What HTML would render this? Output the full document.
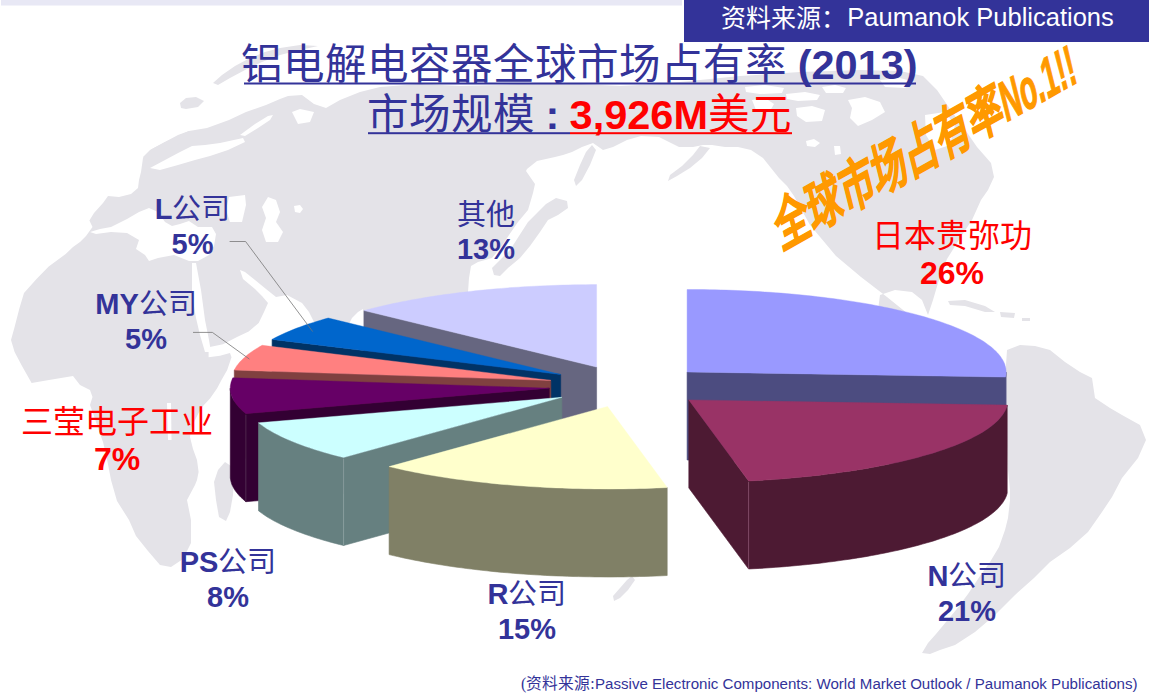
<!DOCTYPE html>
<html lang="zh-CN"><head><meta charset="utf-8">
<style>
html,body{margin:0;padding:0;background:#fff;}
body{width:1155px;height:699px;position:relative;overflow:hidden;font-family:'Liberation Serif', serif;}
.abs{position:absolute;white-space:nowrap;}
.b{font-family:'Liberation Sans', sans-serif;font-weight:bold;}
.blue{color:#333399;}
.red{color:#FF0000;}
.lbl{position:absolute;white-space:nowrap;text-align:center;font-size:29px;line-height:34.5px;color:#333399;}
.lbl.big{font-size:32px;line-height:37px;color:#FF0000;}
</style></head><body>
<svg class="abs" style="left:0;top:0" width="1155" height="699" viewBox="0 0 1155 699">
<rect x="1" y="0" width="681" height="5.5" fill="#E8E8F5"/>
<polygon points="11,340 14.6,327 19.5,308 24,293 36.5,279 48.7,266.5 65.7,254 73,247 80,242 86,236 92.5,227 89.4,220.5 94,213 103,203 108,196 119,197 131,194 138,188 139,180 141,172 143,158 152,149 165,142 178,135 189,131 207,128 229,120 246,112 266,105 280,99 288,96 302,95 314,104 326,108 340,100 360,92 380,87 420,84 460,86 500,85 540,83 580,84 620,86 660,84 700,80 740,76 800,72 860,70 900,71 923,76 937,90 950,109 966,131 977,147 991,163 994,177 988,190 981,200 972,220 962,235 947,259 938,283 933,300 928,315 922,300 912,292 895,290 880,295 878,310 885,322 900,325 910,318 918,325 932,338 952,349 972,356 992,362 1006,368 1004,377 988,374 970,362 939,340 913,318 887,297 861,277 836,256 810,225 794,196 787,186 779,178 771,168 763,158 751,150 738,147 725,147 712,145 703,145 693,147 679,147 671,143 659,137 641,136 627,140 613,147 603,150 593,143 582,147 572,152 563,155 555,157 537,161 527,169 526,171 535,184 533,193 528,210 518,222 509,235 501,247 492,258 478,262 471,266 469,278 468,292 468,340 340,340 318,330 309,312 302,303 287,295 276,297 266,289 255,280 245,272 240,270 243,279 255,289 262,296 268,303 264,312 258.7,323 248.7,331.4 237,337 223,344.3 208.6,347.2 208.6,357.2 220,355.8 230,352.9 231.5,357.2 227.2,370 221.5,380 217,388.6 210,398.6 203,406 198.6,413 191.5,427 190,437 193,449 197,460 198.6,472 197,480 195,485 187,500 191,520 191,543 183,559 171,567 160,565 148,551 136,536 129,520 117,501 111,480 107,459 103,442 99,431 94,416 90,405 92.5,397 90,390 80,385 73,376 61,378 49,380 31.6,383 22,366 14.6,352" fill="#E4E3E8"/>
<polygon points="1007,350 1020,345 1035,346 1050,350 1065,362 1080,372 1092,378 1095,398 1110,408 1122,415 1140,425 1146,440 1138,458 1122,478 1112,497 1102,512 1088,532 1070,548 1050,562 1034,578 1015,595 995,615 975,632 955,645 940,650 930,654 922,653 928,643 936,634 946,622 956,610 968,594 980,576 990,562 999,547 1005,530 1008,518 1010,500 1010,490 1008,470 1006,420 1005,380" fill="#E4E3E8"/>
<polygon points="213,83 222,75 235,66 250,58 265,52 280,48 300,45 318,46 300,50 280,55 262,62 245,70 230,78 218,85" fill="#E4E3E8"/>
<polygon points="180,103 186,98 196,97 204,101 198,107 186,109 181,108" fill="#E4E3E8"/>
<polygon points="143,157 150,150 165,142 180,135 189,131 193,135 182,142 168,150 155,158 146,161" fill="#E4E3E8"/>
<polygon points="225,462 231,466 234,475 233,495 230,512 226,521 219,517 216,500 214,482 218,470" fill="#E4E3E8"/>
<polygon points="592,145 596,150 590,165 582,180 576,186 574,180 580,165 586,152" fill="#E4E3E8"/>
<polygon points="556,198 567,201 568,208 558,215 548,220 540,232 530,246 520,258 508,268 500,276 494,275 492,268 500,260 510,250 519,236 528,222 538,212 546,204" fill="#E4E3E8"/>
<polygon points="700,146 710,148 702,158 690,168 677,176 668,181 670,175 682,166 693,155" fill="#E4E3E8"/>
<polygon points="632,576 635,580 628,590 620,598 614,601 613,596 620,588 627,580" fill="#E4E3E8"/>
<polygon points="948,301 965,300 985,306 995,312 985,312 965,306 950,305" fill="#E4E3E8"/>
<polygon points="1000,312 1015,313 1014,318 1001,317" fill="#E4E3E8"/>
<polygon points="1022,318 1030,318 1030,321 1022,321" fill="#E4E3E8"/>
<polygon points="90,232 100,229 111,227 127,219 139,212 149,208 158,212 165,222 172,226 180,224 189,221 198,227 212,227 216,234 214,246 209,255 198,261 189,261 174,255 158,258 149,261 145,255 136,249 139,240 127,233 111,232 96,234" fill="#FFFFFF"/>
<polygon points="229,197 245,195 246,205 242,222 230,222 226,210" fill="#FFFFFF"/>
<polygon points="268,197 276,200 280,212 276,222 283,232 278,242 266,242 262,230 266,218 262,207" fill="#FFFFFF"/>
<polygon points="294,206 300,205 303,209 300,213 295,212" fill="#FFFFFF"/>
<polygon points="192,263 196,263 201,290 205,320 209,340 211,352 205,352 200,335 196,318 192,295" fill="#FFFFFF"/>
<polygon points="167,403 171,403 171.5,440 168,440" fill="#FFFFFF"/>
<polygon points="348,326 352,318 358,312 363,309 363,328" fill="#FFFFFF"/>
<polygon points="292,112 300,109 314,112 310,122 298,124" fill="#FFFFFF"/>
<polygon points="150,168 165,160 180,152 192,146 205,145 220,143 243,138 245,142 228,150 210,156 195,160 178,165 160,170" fill="#FFFFFF"/>
<polygon points="240,135 255,124 268,116 273,115 270,120 258,128 245,136" fill="#FFFFFF"/>
<polygon points="925,115 945,112 955,125 950,145 935,150 926,135" fill="#FFFFFF"/>
<polygon points="745,87 765,85 784,88 782,93 760,94 746,92" fill="#FFFFFF"/>
<polygon points="752,100 765,98 774,104 770,111 756,110" fill="#FFFFFF"/>
<polygon points="786,94 805,92 820,95 817,100 798,101 787,99" fill="#FFFFFF"/>
<polygon points="796,108 812,106 825,110 822,121 806,122 797,116" fill="#FFFFFF"/>
<polygon points="806,141 814,139 820,143 815,147 807,146" fill="#FFFFFF"/>
<polygon points="834,146 840,146 841,154 835,155" fill="#FFFFFF"/>
<polygon points="822,87 835,85 846,88 843,93 826,93" fill="#FFFFFF"/>
<polygon points="848,100 865,97 880,102 885,112 872,120 858,126 850,118 852,108" fill="#FFFFFF"/>
<polygon points="880,80 900,78 915,82 905,88 885,87" fill="#FFFFFF"/>
<polygon points="596.6,367.1 364,310.6 364,398.6 596.6,455.1" fill="#666680" stroke="#666680" stroke-width="0.6" stroke-linejoin="round"/>
<polygon points="596.6,367.1 364,310.6 367.9,309.6 371.9,308.5 376,307.5 380.1,306.5 384.3,305.5 388.6,304.6 392.9,303.6 397.3,302.7 401.7,301.8 406.3,300.9 410.8,300 415.5,299.2 420.2,298.4 424.9,297.6 429.7,296.8 434.6,296.1 439.5,295.3 444.4,294.6 449.4,293.9 454.5,293.3 459.6,292.6 464.7,292 469.9,291.4 475.1,290.8 480.4,290.3 485.7,289.8 491,289.3 496.3,288.8 501.7,288.4 507.2,287.9 512.6,287.5 518.1,287.2 523.6,286.8 529.1,286.5 534.7,286.2 540.2,285.9 545.8,285.7 551.4,285.5 557,285.3 562.7,285.1 568.3,284.9 573.9,284.8 579.6,284.7 585.2,284.7 590.9,284.6 596.6,284.6" fill="#CCCCFF" stroke="#CCCCFF" stroke-width="0.4" stroke-linejoin="round"/>
<polygon points="687.1,372 1005.5,377.1 1005.5,465.1 687.1,460" fill="#4C4C80" stroke="#4C4C80" stroke-width="0.6" stroke-linejoin="round"/>
<polygon points="1005.5,377.1 1005.8,375.5 1006,373.8 1006.1,372.1 1006.1,460.1 1006,461.8 1005.8,463.5 1005.5,465.1" fill="#4C4C80" stroke="#4C4C80" stroke-width="0.6" stroke-linejoin="round"/>
<polygon points="687.1,372 687.1,289.5 692.7,289.5 698.3,289.5 703.9,289.6 709.5,289.7 715.1,289.8 720.7,289.9 726.2,290.1 731.8,290.3 737.3,290.5 742.8,290.7 748.4,291 753.8,291.3 759.3,291.6 764.8,292 770.2,292.3 775.6,292.7 781,293.1 786.3,293.6 791.6,294 796.9,294.5 802.1,295 807.3,295.6 812.5,296.1 817.6,296.7 822.7,297.3 827.8,297.9 832.8,298.6 837.7,299.2 842.7,299.9 847.5,300.7 852.4,301.4 857.1,302.2 861.8,302.9 866.5,303.7 871.1,304.6 875.6,305.4 880.1,306.3 884.6,307.2 888.9,308.1 893.2,309 897.5,310 901.7,310.9 905.8,311.9 909.8,312.9 913.8,313.9 917.7,315 921.6,316 925.3,317.1 929,318.2 932.6,319.3 936.2,320.4 939.6,321.6 943,322.7 946.3,323.9 949.5,325.1 952.7,326.3 955.7,327.5 958.7,328.7 961.6,329.9 964.4,331.2 967.2,332.5 969.8,333.7 972.4,335 974.8,336.3 977.2,337.7 979.5,339 981.7,340.3 983.8,341.6 985.8,343 987.7,344.4 989.5,345.7 991.3,347.1 992.9,348.5 994.5,349.9 995.9,351.3 997.3,352.7 998.5,354.1 999.7,355.5 1000.8,356.9 1001.7,358.4 1002.6,359.8 1003.4,361.2 1004.1,362.7 1004.7,364.1 1005.1,365.6 1005.5,367 1005.8,368.5 1006,369.9 1006.1,371.4 1006.1,372.8 1006,374.3 1005.8,375.7 1005.5,377.1" fill="#9999FF" stroke="#9999FF" stroke-width="0.4" stroke-linejoin="round"/>
<polygon points="560.7,374.5 272.1,339.4 272.1,427.4 560.7,462.5" fill="#003366" stroke="#003366" stroke-width="0.6" stroke-linejoin="round"/>
<polygon points="560.7,374.5 272.1,339.4 274.5,338.1 277,336.8 279.6,335.5 282.3,334.3 285,333 287.9,331.8 290.8,330.6 293.8,329.3 296.9,328.1 300,327 303.3,325.8 306.6,324.6 310,323.5 313.5,322.4 317.1,321.3 320.7,320.2 324.4,319.1 328.2,318" fill="#0066CC" stroke="#0066CC" stroke-width="0.4" stroke-linejoin="round"/>
<polygon points="550.8,380.4 234.3,370.1 234.3,458.1 550.8,468.4" fill="#804040" stroke="#804040" stroke-width="0.6" stroke-linejoin="round"/>
<polygon points="550.8,380.4 234.3,370.1 235.1,368.6 235.9,367.2 236.8,365.8 237.9,364.4 239,363 240.2,361.6 241.6,360.2 243,358.8 244.5,357.4 246.1,356 247.8,354.6 249.5,353.3 251.4,351.9 253.4,350.6 255.5,349.2 257.6,347.9 259.8,346.6 262.2,345.3" fill="#FF8080" stroke="#FF8080" stroke-width="0.4" stroke-linejoin="round"/>
<polygon points="549.3,388.2 245.9,413.7 245.9,501.7 549.3,476.2" fill="#330033" stroke="#330033" stroke-width="0.6" stroke-linejoin="round"/>
<polygon points="230.3,388.2 230.3,389.7 230.5,391.3 230.8,392.8 231.2,394.3 231.6,395.8 232.2,397.3 233,398.8 233.8,400.3 234.7,401.8 235.7,403.3 236.9,404.8 238.1,406.3 239.4,407.8 240.9,409.3 242.5,410.7 244.1,412.2 245.9,413.7 245.9,501.7 244.1,500.2 242.5,498.7 240.9,497.3 239.4,495.8 238.1,494.3 236.9,492.8 235.7,491.3 234.7,489.8 233.8,488.3 233,486.8 232.2,485.3 231.6,483.8 231.2,482.3 230.8,480.8 230.5,479.3 230.3,477.7 230.3,476.2" fill="#330033" stroke="#330033" stroke-width="0.6" stroke-linejoin="round"/>
<polygon points="549.3,388.2 245.9,413.7 244.2,412.3 242.6,410.9 241.1,409.5 239.7,408.1 238.4,406.7 237.2,405.2 236.1,403.8 235.1,402.4 234.1,401 233.3,399.5 232.6,398.1 232,396.6 231.4,395.2 231,393.8 230.7,392.3 230.4,390.9 230.3,389.4 230.3,387.9 230.3,386.5 230.5,385 230.8,383.6 231.1,382.1 231.6,380.7 232.1,379.3 232.8,377.8" fill="#660066" stroke="#660066" stroke-width="0.4" stroke-linejoin="round"/>
<polygon points="561.9,397.3 343.6,457.5 343.6,545.5 561.9,485.3" fill="#668080" stroke="#668080" stroke-width="0.6" stroke-linejoin="round"/>
<polygon points="258.5,422.8 260.4,424.2 262.3,425.6 264.3,427 266.4,428.4 268.6,429.8 270.9,431.1 273.3,432.5 275.8,433.8 278.3,435.1 281,436.4 283.8,437.7 286.6,439 289.6,440.3 292.6,441.5 295.7,442.8 298.9,444 302.2,445.2 305.5,446.4 309,447.6 312.5,448.8 316.1,449.9 319.8,451.1 323.6,452.2 327.4,453.3 331.4,454.4 335.3,455.4 339.4,456.5 343.6,457.5 343.6,545.5 339.4,544.5 335.3,543.4 331.4,542.4 327.4,541.3 323.6,540.2 319.8,539.1 316.1,537.9 312.5,536.8 309,535.6 305.5,534.4 302.2,533.2 298.9,532 295.7,530.8 292.6,529.5 289.6,528.3 286.6,527 283.8,525.7 281,524.4 278.3,523.1 275.8,521.8 273.3,520.5 270.9,519.1 268.6,517.8 266.4,516.4 264.3,515 262.3,513.6 260.4,512.2 258.5,510.8" fill="#668080" stroke="#668080" stroke-width="0.6" stroke-linejoin="round"/>
<polygon points="561.9,397.3 343.6,457.5 339.4,456.5 335.3,455.4 331.4,454.4 327.4,453.3 323.6,452.2 319.8,451.1 316.1,449.9 312.5,448.8 309,447.6 305.5,446.4 302.2,445.2 298.9,444 295.7,442.8 292.6,441.5 289.6,440.3 286.6,439 283.8,437.7 281,436.4 278.3,435.1 275.8,433.8 273.3,432.5 270.9,431.1 268.6,429.8 266.4,428.4 264.3,427 262.3,425.6 260.4,424.2 258.5,422.8" fill="#CCFFFF" stroke="#CCFFFF" stroke-width="0.4" stroke-linejoin="round"/>
<polygon points="688.8,399.9 748.6,481 748.6,569 688.8,487.9" fill="#4D1A33" stroke="#4D1A33" stroke-width="0.6" stroke-linejoin="round"/>
<polygon points="748.6,481 754.1,480.7 759.6,480.4 765,480.1 770.5,479.7 775.9,479.3 781.3,478.9 786.6,478.5 791.9,478 797.2,477.5 802.5,477 807.7,476.5 812.9,475.9 818.1,475.4 823.2,474.8 828.2,474.1 833.3,473.5 838.2,472.8 843.2,472.1 848.1,471.4 852.9,470.7 857.7,469.9 862.4,469.2 867.1,468.4 871.7,467.5 876.3,466.7 880.8,465.8 885.3,464.9 889.7,464 894,463.1 898.3,462.2 902.5,461.2 906.6,460.2 910.7,459.2 914.7,458.2 918.6,457.2 922.4,456.1 926.2,455 929.9,454 933.6,452.9 937.1,451.7 940.6,450.6 944,449.4 947.3,448.3 950.6,447.1 953.8,445.9 956.8,444.7 959.8,443.5 962.8,442.2 965.6,441 968.3,439.7 971,438.4 973.6,437.1 976.1,435.8 978.5,434.5 980.8,433.2 983,431.9 985.1,430.5 987.1,429.2 989.1,427.8 990.9,426.4 992.7,425 994.3,423.7 995.9,422.3 997.4,420.9 998.8,419.5 1000,418 1001.2,416.6 1002.3,415.2 1003.3,413.8 1004.2,412.3 1005,410.9 1005.7,409.5 1006.3,408 1006.8,406.6 1007.2,405.1 1007.2,493.1 1006.8,494.6 1006.3,496 1005.7,497.5 1005,498.9 1004.2,500.3 1003.3,501.8 1002.3,503.2 1001.2,504.6 1000,506 998.8,507.5 997.4,508.9 995.9,510.3 994.3,511.7 992.7,513 990.9,514.4 989.1,515.8 987.1,517.2 985.1,518.5 983,519.9 980.8,521.2 978.5,522.5 976.1,523.8 973.6,525.1 971,526.4 968.3,527.7 965.6,529 962.8,530.2 959.8,531.5 956.8,532.7 953.8,533.9 950.6,535.1 947.3,536.3 944,537.4 940.6,538.6 937.1,539.7 933.6,540.9 929.9,542 926.2,543 922.4,544.1 918.6,545.2 914.7,546.2 910.7,547.2 906.6,548.2 902.5,549.2 898.3,550.2 894,551.1 889.7,552 885.3,552.9 880.8,553.8 876.3,554.7 871.7,555.5 867.1,556.4 862.4,557.2 857.7,557.9 852.9,558.7 848.1,559.4 843.2,560.1 838.2,560.8 833.3,561.5 828.2,562.1 823.2,562.8 818.1,563.4 812.9,563.9 807.7,564.5 802.5,565 797.2,565.5 791.9,566 786.6,566.5 781.3,566.9 775.9,567.3 770.5,567.7 765,568.1 759.6,568.4 754.1,568.7 748.6,569" fill="#4D1A33" stroke="#4D1A33" stroke-width="0.6" stroke-linejoin="round"/>
<polygon points="688.8,399.9 1007.2,405.1 1006.8,406.6 1006.3,408 1005.7,409.5 1005,410.9 1004.2,412.3 1003.3,413.8 1002.3,415.2 1001.2,416.6 1000,418 998.8,419.5 997.4,420.9 995.9,422.3 994.3,423.7 992.7,425 990.9,426.4 989.1,427.8 987.1,429.2 985.1,430.5 983,431.9 980.8,433.2 978.5,434.5 976.1,435.8 973.6,437.1 971,438.4 968.3,439.7 965.6,441 962.8,442.2 959.8,443.5 956.8,444.7 953.8,445.9 950.6,447.1 947.3,448.3 944,449.4 940.6,450.6 937.1,451.7 933.6,452.9 929.9,454 926.2,455 922.4,456.1 918.6,457.2 914.7,458.2 910.7,459.2 906.6,460.2 902.5,461.2 898.3,462.2 894,463.1 889.7,464 885.3,464.9 880.8,465.8 876.3,466.7 871.7,467.5 867.1,468.4 862.4,469.2 857.7,469.9 852.9,470.7 848.1,471.4 843.2,472.1 838.2,472.8 833.3,473.5 828.2,474.1 823.2,474.8 818.1,475.4 812.9,475.9 807.7,476.5 802.5,477 797.2,477.5 791.9,478 786.6,478.5 781.3,478.9 775.9,479.3 770.5,479.7 765,480.1 759.6,480.4 754.1,480.7 748.6,481" fill="#993366" stroke="#993366" stroke-width="0.4" stroke-linejoin="round"/>
<polygon points="389.1,466.6 393.2,467.6 397.4,468.5 401.6,469.5 405.9,470.4 410.2,471.3 414.6,472.2 419.1,473 423.6,473.9 428.2,474.7 432.8,475.5 437.5,476.3 442.2,477 447,477.8 451.8,478.5 456.7,479.2 461.7,479.8 466.6,480.5 471.6,481.1 476.7,481.7 481.8,482.3 486.9,482.8 492.1,483.4 497.3,483.9 502.6,484.4 507.8,484.8 513.1,485.3 518.5,485.7 523.8,486.1 529.2,486.4 534.6,486.8 540.1,487.1 545.5,487.4 551,487.7 556.5,487.9 562,488.1 567.5,488.3 573,488.5 578.6,488.6 584.1,488.7 589.7,488.8 595.2,488.9 600.8,488.9 606.4,489 611.9,489 617.5,488.9 623.1,488.9 628.6,488.8 634.2,488.7 639.7,488.5 645.2,488.4 650.8,488.2 656.3,488 661.8,487.8 667.2,487.5 667.2,575.5 661.8,575.8 656.3,576 650.8,576.2 645.2,576.4 639.7,576.5 634.2,576.7 628.6,576.8 623.1,576.9 617.5,576.9 611.9,577 606.4,577 600.8,576.9 595.2,576.9 589.7,576.8 584.1,576.7 578.6,576.6 573,576.5 567.5,576.3 562,576.1 556.5,575.9 551,575.7 545.5,575.4 540.1,575.1 534.6,574.8 529.2,574.4 523.8,574.1 518.5,573.7 513.1,573.3 507.8,572.8 502.6,572.4 497.3,571.9 492.1,571.4 486.9,570.8 481.8,570.3 476.7,569.7 471.6,569.1 466.6,568.5 461.7,567.8 456.7,567.2 451.8,566.5 447,565.8 442.2,565 437.5,564.3 432.8,563.5 428.2,562.7 423.6,561.9 419.1,561 414.6,560.2 410.2,559.3 405.9,558.4 401.6,557.5 397.4,556.5 393.2,555.6 389.1,554.6" fill="#808066" stroke="#808066" stroke-width="0.6" stroke-linejoin="round"/>
<polygon points="607.5,406.5 667.2,487.5 661.8,487.8 656.3,488 650.8,488.2 645.2,488.4 639.7,488.5 634.2,488.7 628.6,488.8 623.1,488.9 617.5,488.9 611.9,489 606.4,489 600.8,488.9 595.2,488.9 589.7,488.8 584.1,488.7 578.6,488.6 573,488.5 567.5,488.3 562,488.1 556.5,487.9 551,487.7 545.5,487.4 540.1,487.1 534.6,486.8 529.2,486.4 523.8,486.1 518.5,485.7 513.1,485.3 507.8,484.8 502.6,484.4 497.3,483.9 492.1,483.4 486.9,482.8 481.8,482.3 476.7,481.7 471.6,481.1 466.6,480.5 461.7,479.8 456.7,479.2 451.8,478.5 447,477.8 442.2,477 437.5,476.3 432.8,475.5 428.2,474.7 423.6,473.9 419.1,473 414.6,472.2 410.2,471.3 405.9,470.4 401.6,469.5 397.4,468.5 393.2,467.6 389.1,466.6" fill="#FFFFCC" stroke="#FFFFCC" stroke-width="0.4" stroke-linejoin="round"/>
<line x1="748.6" y1="482" x2="748.6" y2="569" stroke="#8C5470" stroke-width="0.8"/>
<line x1="343.6" y1="458.5" x2="343.6" y2="545.5" stroke="#8FA3A3" stroke-width="0.8"/>
<line x1="245.9" y1="414.7" x2="245.9" y2="501.7" stroke="#553055" stroke-width="0.8"/>
<polyline points="229.6,241.5 245.6,241.5 312.7,331.6" fill="none" stroke="#777" stroke-width="0.8"/>
<polyline points="193,332.4 212.4,332.4 249.4,359.1" fill="none" stroke="#777" stroke-width="0.8"/>
<rect x="244" y="82.5" width="672" height="2" fill="#333399"/>
<rect x="368" y="132.2" width="202" height="2" fill="#333399"/>
<rect x="570" y="132.2" width="222" height="2" fill="#FF0000"/>
</svg>
<div class="abs" style="left:684px;top:0;width:465px;height:42px;background:#333399;"></div>
<div class="abs" style="left:721px;top:-2px;color:#fff;font-size:25px;line-height:42px;">资料来源：</div>
<div class="abs" style="left:847.3px;top:-4px;color:#fff;font-size:25.5px;line-height:42px;font-family:'Liberation Sans', sans-serif;">Paumanok Publications</div>
<div class="abs blue" style="left:241.3px;top:40px;font-size:41.5px;line-height:50px;">铝电解电容器全球市场占有率</div>
<div class="abs blue b" style="left:797.7px;top:40px;font-size:41.5px;line-height:50px;">(2013)</div>
<div class="abs blue" style="left:367px;top:90px;font-size:41.5px;line-height:50px;">市场规模</div>
<div class="abs blue b" style="left:545.4px;top:90px;font-size:41.5px;line-height:50px;">:</div>
<div class="abs red b" style="left:569.6px;top:90px;font-size:41.5px;line-height:50px;">3,926M</div>
<div class="abs red" style="left:708px;top:90px;font-size:41.5px;line-height:50px;">美元</div>
<div class="abs" id="no1" style="left:770px;top:203px;color:#FF9900;-webkit-text-stroke:1.3px #FF9900;font-family:'Liberation Sans', sans-serif;font-weight:bold;font-size:56px;line-height:56px;transform-origin:0 0;transform:matrix(0.573,-0.3215,0.2419,0.9703,0,0);">全球市场占有率<span style="display:inline-block;transform-origin:0 100%;transform:scaleX(0.8);">No.1!!</span></div>
<div class="lbl" id="l1" style="left:132.5px;width:120px;top:192px;"><span class="b">L</span>公司<br><span class="b">5%</span></div>
<div class="lbl" id="l2" style="left:426px;width:120px;top:197.5px;">其他<br><span class="b">13%</span></div>
<div class="lbl big" id="l3" style="left:852px;width:200px;top:218px;">日本贵弥功<br><span class="b">26%</span></div>
<div class="lbl" id="l4" style="left:86px;width:120px;top:287px;"><span class="b">MY</span>公司<br><span class="b">5%</span></div>
<div class="lbl big" id="l5" style="left:17px;width:200px;top:404px;">三莹电子工业<br><span class="b">7%</span></div>
<div class="lbl" id="l6" style="left:168px;width:120px;top:545px;"><span class="b">PS</span>公司<br><span class="b">8%</span></div>
<div class="lbl" id="l7" style="left:467px;width:120px;top:577px;"><span class="b">R</span>公司<br><span class="b">15%</span></div>
<div class="lbl" id="l8" style="left:907px;width:120px;top:559px;"><span class="b">N</span>公司<br><span class="b">21%</span></div>
<div class="abs blue" style="left:521px;top:674px;font-size:15.8px;line-height:20px;">(资料来源:</div>
<div class="abs blue" style="left:595px;top:674px;font-size:15.1px;line-height:20px;font-family:'Liberation Sans', sans-serif;">Passive Electronic Components: World Market Outlook / Paumanok Publications)</div>
</body></html>
